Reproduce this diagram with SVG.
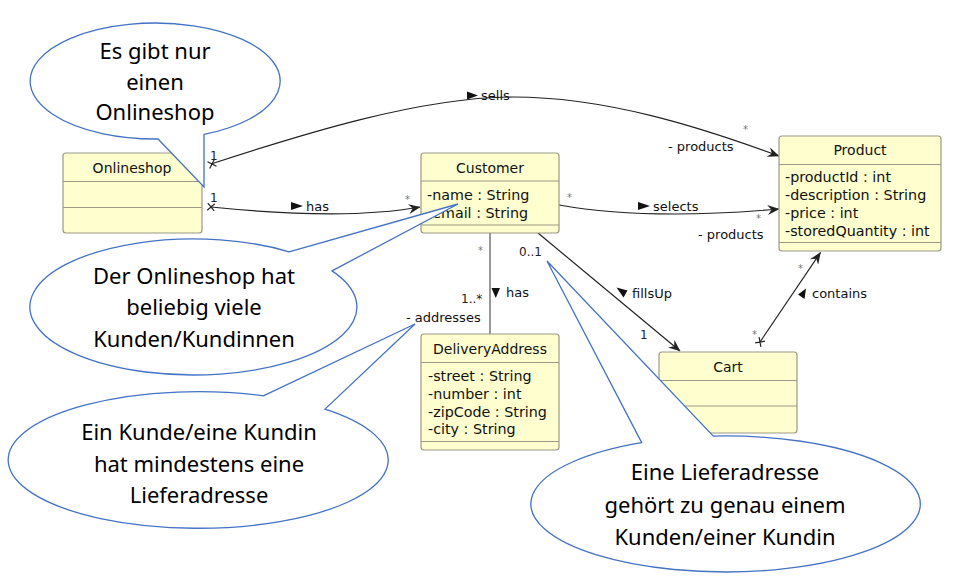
<svg xmlns="http://www.w3.org/2000/svg" width="975" height="587" viewBox="0 0 975 587">
<style>
.box{fill:#FEFECE;stroke:#9a9a86;stroke-width:1.2}
.div{stroke:#9a9a86;stroke-width:1.2}
.title{font-family:"DejaVu Sans",sans-serif;font-size:14px;fill:#111;text-anchor:middle}
.attr{font-family:"DejaVu Sans",sans-serif;font-size:14.3px;fill:#111}
.lbl{font-family:"DejaVu Sans",sans-serif;font-size:13px;fill:#111}
.mult{font-family:"DejaVu Sans",sans-serif;font-size:12px;fill:#222}
.star{font-family:"DejaVu Sans",sans-serif;font-size:10px;fill:#777}
.con{fill:none;stroke:#222;stroke-width:1.2}
.cross{stroke:#222;stroke-width:1.2}
.call{fill:#fff;stroke:#4472C4;stroke-width:1.3}
.ctext{font-family:"Noto Sans","Open Sans",sans-serif;font-size:22px;fill:#000;text-anchor:middle}
</style>
<defs>
<marker id="arr" viewBox="0 0 12 10" refX="11.5" refY="5" markerWidth="12" markerHeight="10" orient="auto" markerUnits="userSpaceOnUse">
<path d="M0,0 L12,5 L0,10 L4,5 Z" fill="#222"/>
</marker>
</defs>
<rect width="975" height="587" fill="#fff"/>

<g id="connectors">
<!-- sells -->
<path class="con" d="M211,164 C300,135 420,97 513,97 S700,127 779,156" marker-end="url(#arr)"/>
<path class="cross" d="M207.5,161.7 L216.5,166.3 M209.7,168.5 L214.3,159.5"/>
<text class="mult" x="210" y="160" font-size="11">1</text>
<polygon points="467,91.5 478,95.5 467,99.5" fill="#111"/>
<text class="lbl" x="481" y="100">sells</text>
<text class="star" x="743" y="133">*</text>
<text class="lbl" x="668" y="151">- products</text>
<!-- has (Onlineshop->Customer) -->
<path class="con" d="M211,207 C280,214 360,218 420,207" marker-end="url(#arr)"/>
<path class="cross" d="M207.8,203.2 L214.2,210.8 M207.2,210.2 L214.8,203.8"/>
<text class="mult" x="210" y="202" font-size="11">1</text>
<polygon points="291,202 303,206 291,210" fill="#111"/>
<text class="lbl" x="306" y="211">has</text>
<text class="star" x="405" y="203">*</text>
<!-- selects -->
<path class="con" d="M559,205 C620,216 700,216 779,209" marker-end="url(#arr)"/>
<text class="star" x="567" y="201">*</text>
<polygon points="638,202 650,206 638,210" fill="#111"/>
<text class="lbl" x="653" y="211">selects</text>
<text class="star" x="756" y="222">*</text>
<text class="lbl" x="698" y="239">- products</text>
<!-- has (Customer->DeliveryAddress) -->
<path d="M490,233 L490,334" stroke="#777" stroke-width="1.5" fill="none"/>
<text class="star" x="478" y="254">*</text>
<polygon points="491.5,288 500,288 495.75,298" fill="#111"/>
<text class="lbl" x="506" y="297">has</text>
<text class="mult" x="461" y="303">1..*</text>
<text class="lbl" x="406" y="322">- addresses</text>
<!-- fillsUp -->
<path class="con" d="M538,233 L680,351" marker-end="url(#arr)"/>
<text class="mult" x="519" y="256">0..1</text>
<polygon points="616.5,287.5 627.5,290.5 623.5,297.5" fill="#111"/>
<text class="lbl" x="632" y="298">fillsUp</text>
<text class="mult" x="640" y="339">1</text>
<!-- contains -->
<path class="con" d="M760,342 L820.5,252.5" marker-end="url(#arr)"/>
<path class="cross" d="M755.1,342.9 L764.9,341.1 M760.9,346.9 L759.1,337.1"/>
<text class="star" x="798" y="272">*</text>
<text class="star" x="752" y="338">*</text>
<polygon points="798,294.5 806,288.5 804.5,299" fill="#111"/>
<text class="lbl" x="812" y="298">contains</text>
</g>

<g id="Onlineshop">
<rect class="box" x="63" y="153" width="139" height="80" rx="3"/>
<line class="div" x1="63" y1="181.5" x2="202" y2="181.5"/>
<line class="div" x1="63" y1="207.5" x2="202" y2="207.5"/>
<text class="title" x="132" y="173">Onlineshop</text>
</g>

<g id="Customer">
<rect class="box" x="421" y="153" width="138" height="80" rx="3"/>
<line class="div" x1="421" y1="181" x2="559" y2="181"/>
<line class="div" x1="421" y1="225" x2="559" y2="225"/>
<text class="title" x="490" y="173">Customer</text>
<text class="attr" x="427" y="200">-name : String</text>
<text class="attr" x="427" y="218">-email : String</text>
</g>

<g id="Product">
<rect class="box" x="779" y="136" width="162" height="115" rx="3"/>
<line class="div" x1="779" y1="164.5" x2="941" y2="164.5"/>
<line class="div" x1="779" y1="242.5" x2="941" y2="242.5"/>
<text class="title" x="860" y="155">Product</text>
<text class="attr" x="785" y="182">-productId : int</text>
<text class="attr" x="785" y="200">-description : String</text>
<text class="attr" x="785" y="218">-price : int</text>
<text class="attr" x="785" y="235.5">-storedQuantity : int</text>
</g>

<g id="DeliveryAddress">
<rect class="box" x="421" y="334" width="138" height="116" rx="3"/>
<line class="div" x1="421" y1="362.5" x2="559" y2="362.5"/>
<line class="div" x1="421" y1="441.5" x2="559" y2="441.5"/>
<text class="title" x="490" y="353.5">DeliveryAddress</text>
<text class="attr" x="428" y="381">-street : String</text>
<text class="attr" x="428" y="398.5">-number : int</text>
<text class="attr" x="428" y="416.5">-zipCode : String</text>
<text class="attr" x="428" y="434">-city : String</text>
</g>

<g id="Cart">
<rect class="box" x="659" y="352" width="138" height="81" rx="3"/>
<line class="div" x1="659" y1="380.5" x2="797" y2="380.5"/>
<line class="div" x1="659" y1="406" x2="797" y2="406"/>
<text class="title" x="728" y="372">Cart</text>
</g>

<g id="callout1">
<path class="call" d="M158,139 A125 58 0 1 1 204,134.4 L204,187 Z"/>
<text class="ctext" x="155" y="59">Es gibt nur</text>
<text class="ctext" x="155" y="89.5">einen</text>
<text class="ctext" x="155" y="120">Onlineshop</text>
</g>

<g id="callout2">
<path class="call" d="M289,251.8 L458,204 L332,270.9 A163.5 68 0 1 1 289,251.8 Z"/>
<text class="ctext" x="194" y="283.5">Der Onlineshop hat</text>
<text class="ctext" x="194" y="315">beliebig viele</text>
<text class="ctext" x="194" y="346.5">Kunden/Kundinnen</text>
</g>

<g id="callout3">
<path class="call" d="M263.3,395.8 L415,324 L325,409.1 A190 68.3 0 1 1 263.3,395.8 Z"/>
<text class="ctext" x="199" y="440">Ein Kunde/eine Kundin</text>
<text class="ctext" x="199" y="471.5">hat mindestens eine</text>
<text class="ctext" x="199" y="502.5">Lieferadresse</text>
</g>

<g id="callout4">
<path class="call" d="M641.7,442.6 L547,261 L713.3,436.1 A194.7 68 0 1 1 641.7,442.6 Z"/>
<text class="ctext" x="725" y="480">Eine Lieferadresse</text>
<text class="ctext" x="725" y="513">gehört zu genau einem</text>
<text class="ctext" x="725" y="545">Kunden/einer Kundin</text>
</g>
</svg>
